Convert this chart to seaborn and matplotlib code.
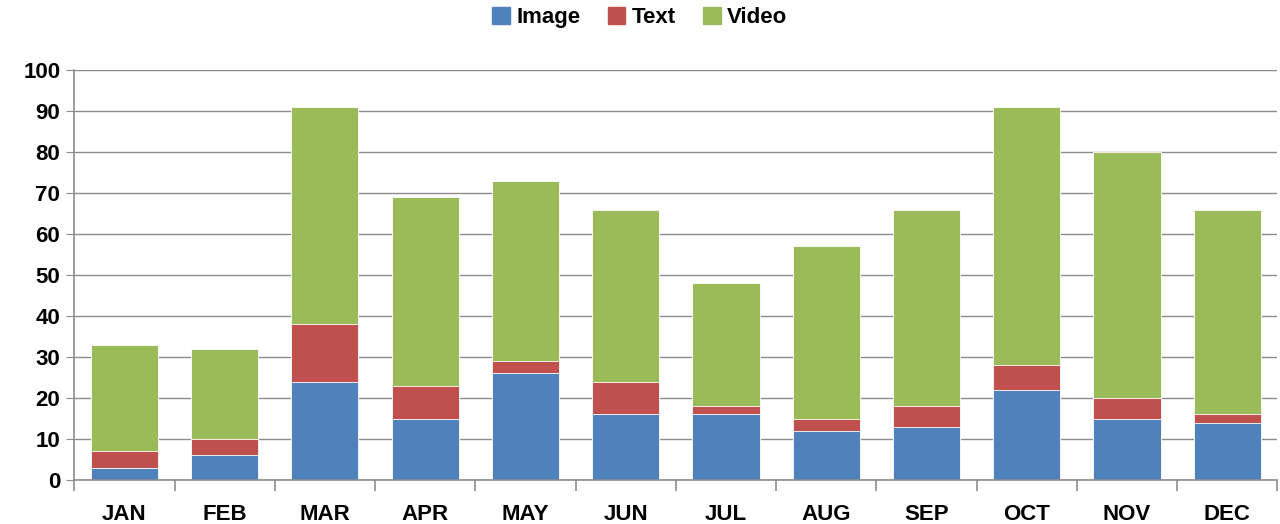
import seaborn as sns
import matplotlib.pyplot as plt
import numpy as np
import pandas as pd
from matplotlib.patches import Patch

months = ["JAN", "FEB", "MAR", "APR", "MAY", "JUN", "JUL", "AUG", "SEP", "OCT", "NOV", "DEC"]
image = [3, 6, 24, 15, 26, 16, 16, 12, 13, 22, 15, 14]
text = [4, 4, 14, 8, 3, 8, 2, 3, 5, 6, 5, 2]
video = [26, 22, 53, 46, 44, 42, 30, 42, 48, 63, 60, 50]

df = pd.DataFrame({"Month": months, "Image": image, "Text": text, "Video": video})
df["ImgText"] = df["Image"] + df["Text"]
df["Total"] = df["ImgText"] + df["Video"]

sns.set_style("white")
plt.rcParams["font.family"] = ["Liberation Sans", "DejaVu Sans"]
plt.rcParams["font.weight"] = "bold"
plt.rcParams["text.color"] = "black"
plt.rcParams["xtick.labelcolor"] = "black"
plt.rcParams["ytick.labelcolor"] = "black"

blue = "#4F81BD"
red = "#C0504D"
green = "#9BBB59"

fig = plt.figure(figsize=(12.8, 5.24), dpi=100)
ax = fig.add_axes([0.058, 0.084, 0.94, 0.782])

# stacked bars drawn back to front
sns.barplot(data=df, x="Month", y="Total", color=green, width=0.67, saturation=1,
            edgecolor="white", linewidth=0.6, ax=ax)
sns.barplot(data=df, x="Month", y="ImgText", color=red, width=0.67, saturation=1,
            edgecolor="white", linewidth=0.6, ax=ax)
sns.barplot(data=df, x="Month", y="Image", color=blue, width=0.67, saturation=1,
            edgecolor="white", linewidth=0.6, ax=ax)

ax.set_xlim(-0.5, 11.5)
ax.set_ylim(0, 100)
ax.set_yticks(range(0, 101, 10))
ax.set_xlabel("")
ax.set_ylabel("")
ax.yaxis.grid(True, color="#8c8c8c", linewidth=1)
ax.set_axisbelow(True)

for s in ["top", "right"]:
    ax.spines[s].set_visible(False)
for s in ["left", "bottom"]:
    ax.spines[s].set_color("#8c8c8c")
    ax.spines[s].set_linewidth(1.2)

ax.tick_params(axis="y", which="major", direction="out", length=6, color="#8c8c8c",
               labelsize=16, pad=4, left=True, labelcolor="black")
ax.tick_params(axis="x", which="major", length=0, labelsize=16, pad=17, labelcolor="black")
ax.set_xticks(np.arange(-0.5, 12, 1), minor=True)
ax.tick_params(axis="x", which="minor", direction="out", length=8, color="#8c8c8c",
               width=1.2, bottom=True)
for lab in ax.get_xticklabels() + ax.get_yticklabels():
    lab.set_fontweight("bold")

handles = [Patch(color=blue, label="Image"), Patch(color=red, label="Text"),
           Patch(color=green, label="Video")]
fig.legend(handles=handles, loc="upper center", bbox_to_anchor=(0.5, 1.025), ncol=3,
           frameon=False, prop={"size": 16, "weight": "bold"},
           handlelength=0.8, handleheight=0.8, handletextpad=0.3, columnspacing=1.2)

fig.savefig("out.png", dpi=100)
